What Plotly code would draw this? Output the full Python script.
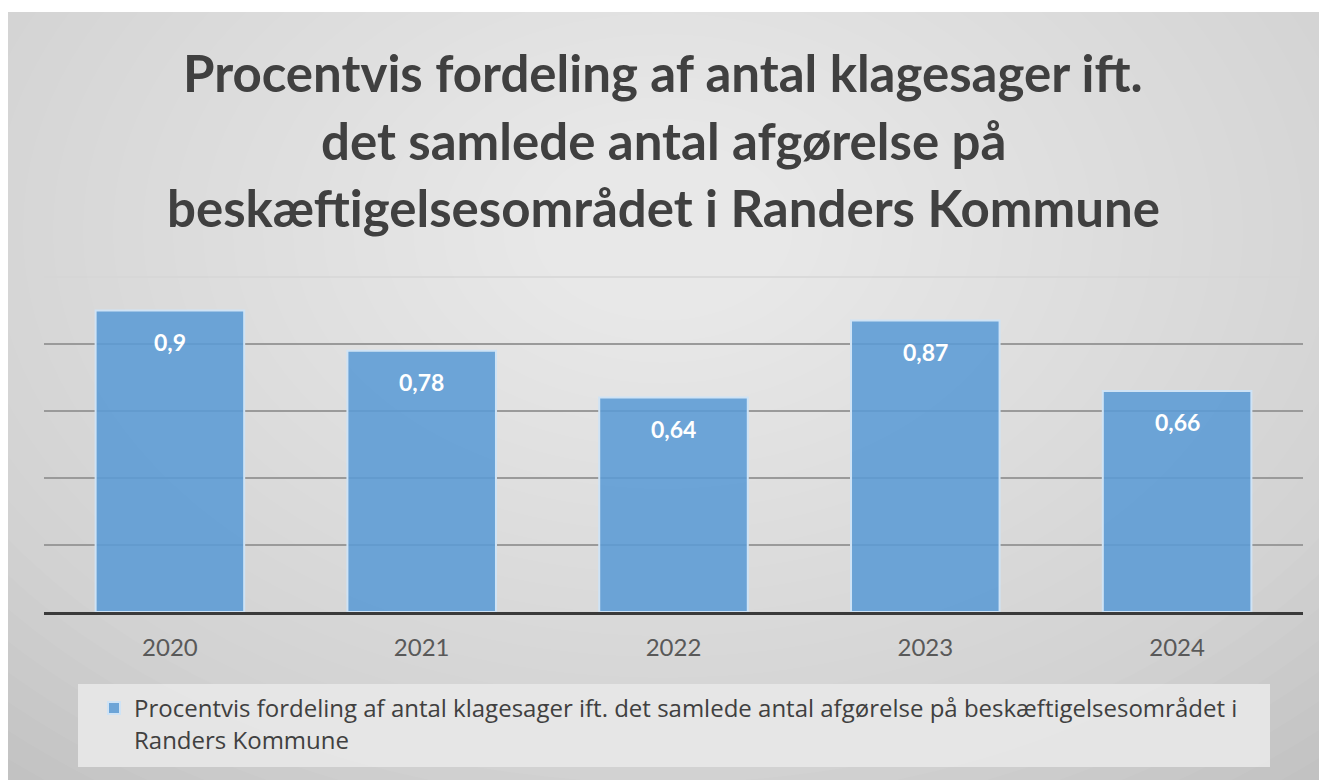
import plotly.graph_objects as go

years = ["2020", "2021", "2022", "2023", "2024"]
values = [0.9, 0.78, 0.64, 0.87, 0.66]
series_name = "Procentvis fordeling af antal klagesager ift. det samlede antal afgørelse på beskæftigelsesområdet i<br>Randers Kommune"
title_lines = [
    "Procentvis fordeling af antal klagesager ift.",
    "det samlede antal afgørelse på",
    "beskæftigelsesområdet i Randers Kommune",
]

# figure is placed with an 8px page margin; coordinates below are in screenshot pixels
OFF = 8
W, H = 1327 - OFF, 780 - OFF
PLOT_L, PLOT_R, PLOT_T, PLOT_B = 44, 1303, 277, 612
L, R, T, B = PLOT_L - OFF, W - (PLOT_R - OFF), PLOT_T - OFF, H - (PLOT_B - OFF)
PW, PH = W - L - R, H - T - B


def px_x(x):
    return (x - OFF - L) / PW


def px_y(y):
    return (PLOT_B - y) / PH


FONT = "Lato"

fig = go.Figure()
fig.add_trace(go.Bar(
    x=years, y=values, name=series_name,
    marker=dict(color="rgba(91,155,213,0.88)", line=dict(color="#cfe3f5", width=2)),
    width=0.59, showlegend=True,
))

shapes = []
# background panel
shapes.append(dict(type="rect", xref="paper", yref="paper", layer="below",
                   x0=px_x(0), x1=px_x(1340), y0=px_y(790), y1=px_y(12),
                   fillcolor="#c2c2c2", line=dict(width=0)))
# radial light
cx, cy = 663, 230
n = 30
for i in range(n):
    rx = 1000 - i * 30
    ry = 700 - i * 21
    shapes.append(dict(type="circle", xref="paper", yref="paper", layer="below",
                       x0=px_x(cx - rx), x1=px_x(cx + rx), y0=px_y(cy + ry), y1=px_y(cy - ry),
                       fillcolor="rgba(255,255,255,0.045)", line=dict(width=0)))
# mask top white border
shapes.append(dict(type="rect", xref="paper", yref="paper", layer="below",
                   x0=px_x(-10), x1=px_x(1340), y0=px_y(12), y1=px_y(-10),
                   fillcolor="white", line=dict(width=0)))
# faint top grid line
shapes.append(dict(type="line", xref="paper", yref="paper", layer="below",
                   x0=0, x1=1, y0=1, y1=1, line=dict(color="#d6d6d6", width=1.5)))
# legend box
shapes.append(dict(type="rect", xref="paper", yref="paper", layer="below",
                   x0=px_x(78), x1=px_x(1270), y0=px_y(767), y1=px_y(684),
                   fillcolor="rgba(232,232,232,0.9)", line=dict(width=0)))

annotations = []
for i, v in enumerate(values):
    annotations.append(dict(x=i, y=v, xref="x", yref="y", text=f"<b>{str(v).replace('.', ',')}</b>",
                            showarrow=False, yshift=-31, font=dict(family=FONT, size=23, color="white")))
for line, ypx in zip(title_lines, [73, 140, 207]):
    annotations.append(dict(x=px_x(663), y=px_y(ypx), xref="paper", yref="paper", text=f"<b>{line}</b>",
                            showarrow=False, xanchor="center", yanchor="middle",
                            font=dict(family=FONT, size=51, color="#404040")))

fig.update_layout(
    width=W, height=H,
    margin=dict(l=L, r=R, t=T, b=B),
    paper_bgcolor="white", plot_bgcolor="rgba(0,0,0,0)",
    shapes=shapes, annotations=annotations,
    font=dict(family=FONT, color="#595959"),
    legend=dict(orientation="h", x=px_x(94), y=px_y(686), xanchor="left", yanchor="top",
                valign="top", bgcolor="rgba(0,0,0,0)",
                font=dict(family="Open Sans", size=24, color="#404040"), itemwidth=30),
    xaxis=dict(type="category", range=[-0.5, len(years) - 0.5], showline=True, linecolor="#3a3a3a",
               linewidth=3, ticks="", tickfont=dict(family=FONT, size=24, color="#595959"),
               ticklabelstandoff=12, showgrid=False, fixedrange=True),
    yaxis=dict(range=[0, 1.0], dtick=0.2, showticklabels=False, showgrid=True,
               gridcolor="#9a9a9a", gridwidth=1.5, zeroline=False, fixedrange=True),
)

fig.write_html("out.html")
